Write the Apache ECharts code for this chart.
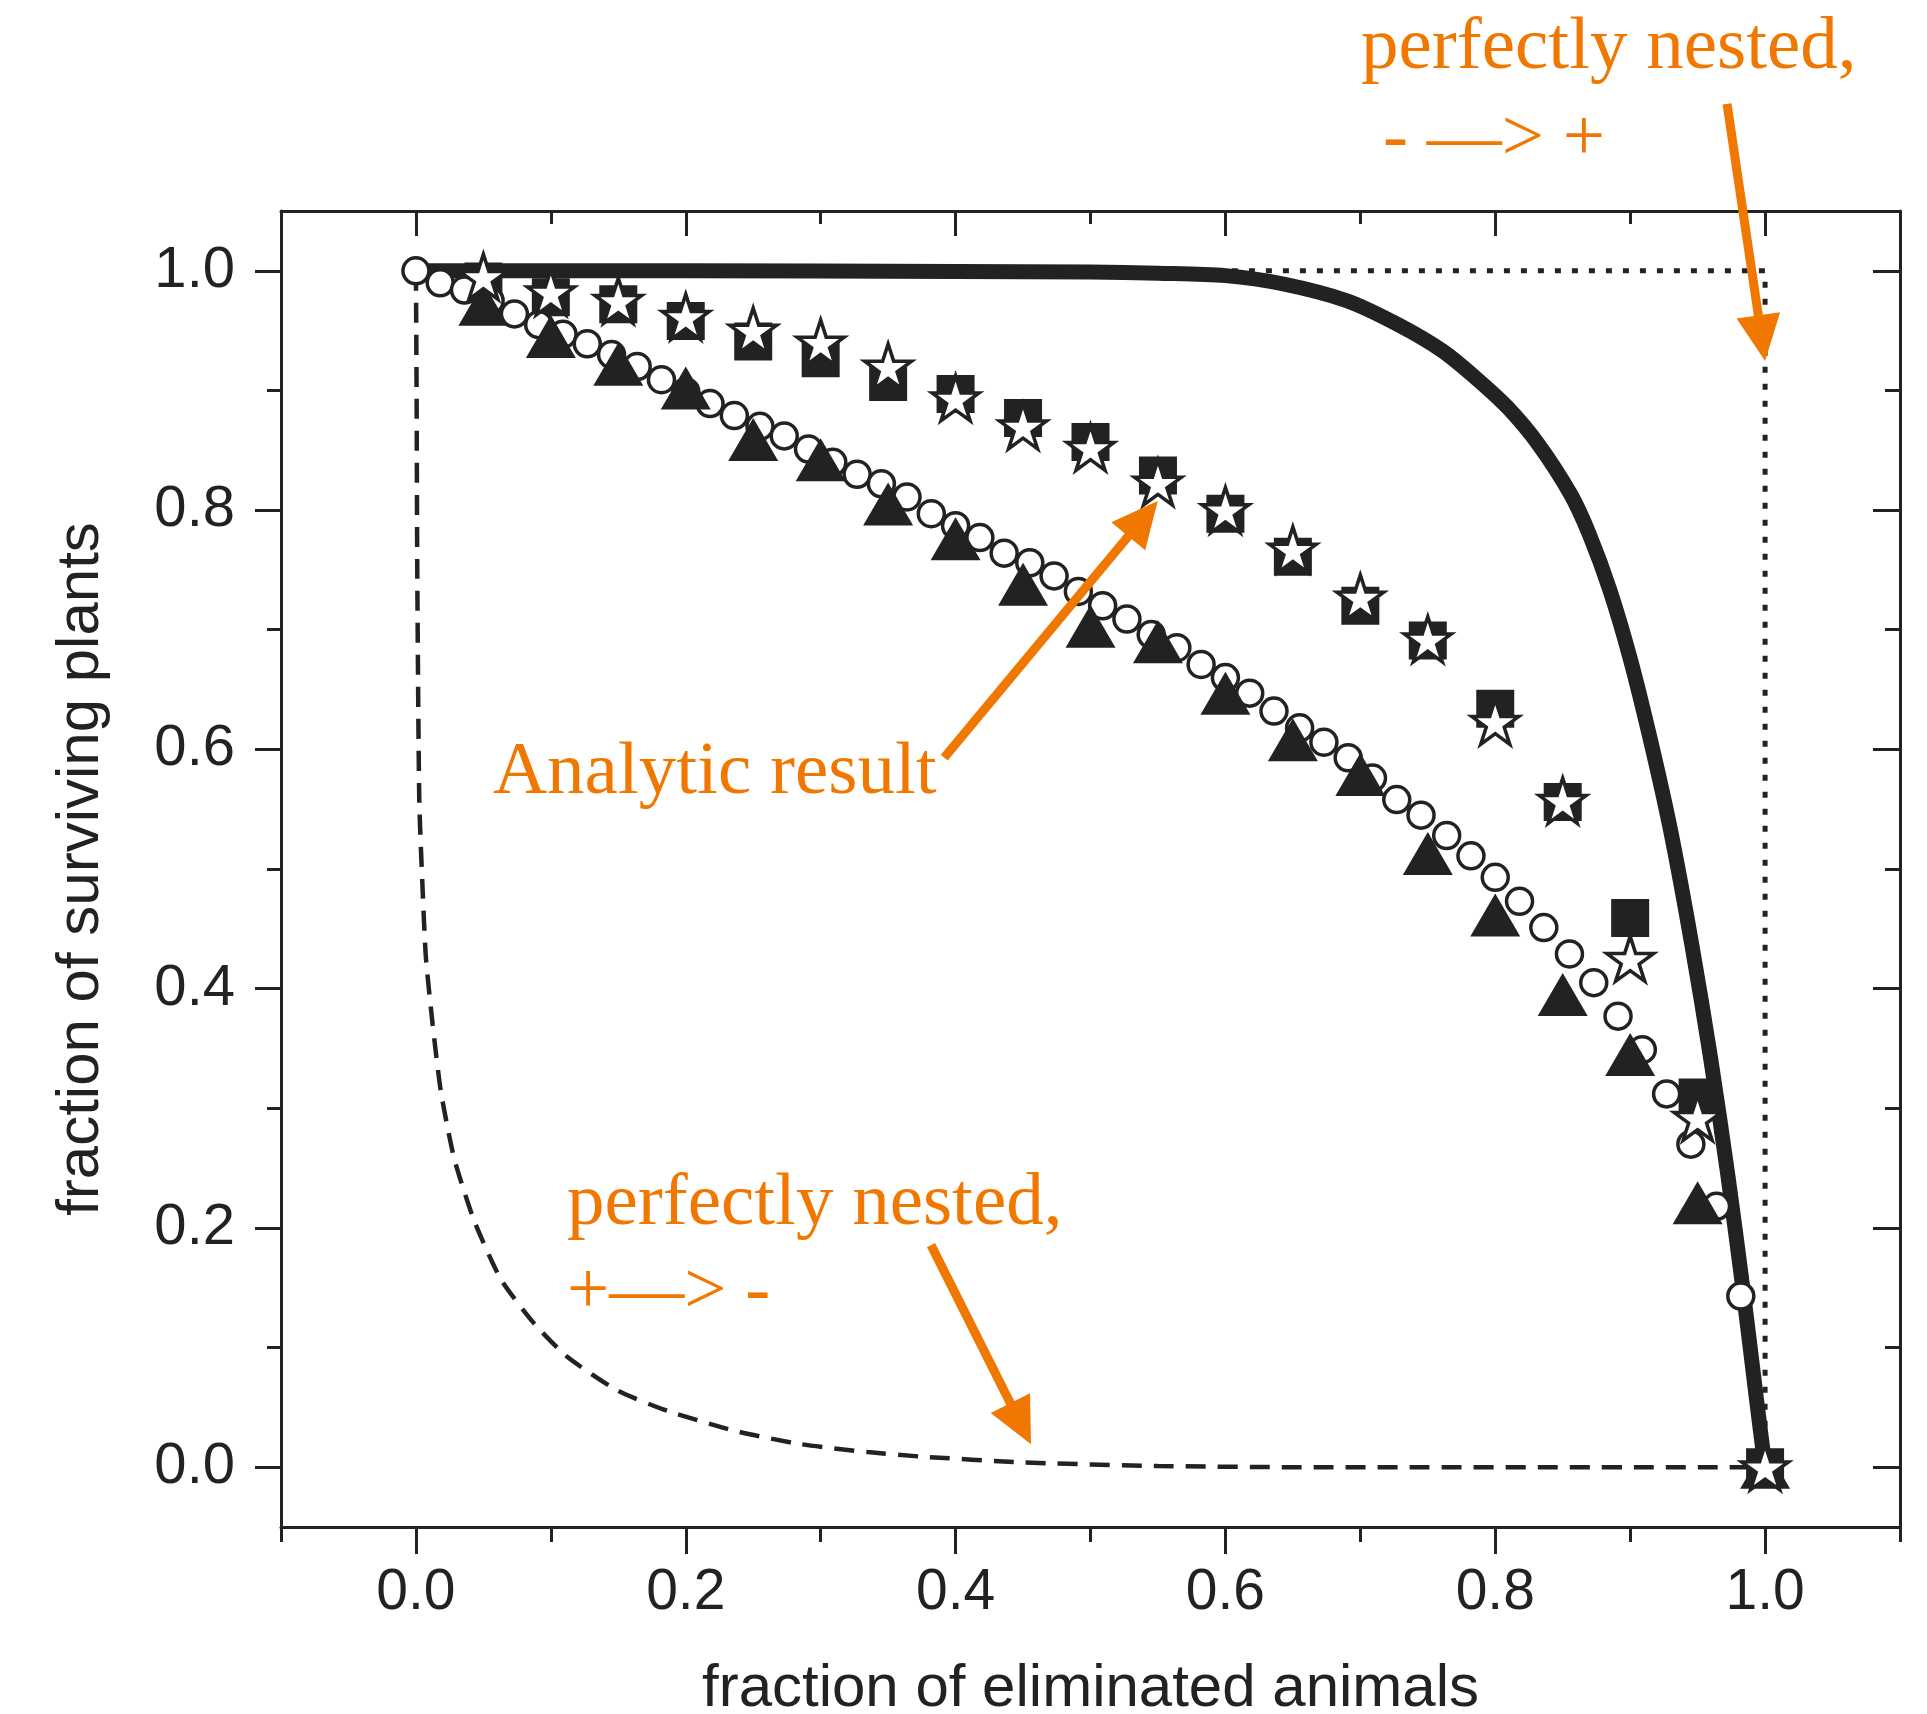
<!DOCTYPE html>
<html>
<head>
<meta charset="utf-8">
<script src="https://cdn.jsdelivr.net/npm/echarts@6/dist/echarts.min.js"></script>
<style>
  html, body { margin: 0; padding: 0; background: #ffffff; }
  #chart { width: 1927px; height: 1714px; }
</style>
</head>
<body>
<div id="chart"></div>
<script>
// tick positions
const xMajor = [0, 0.2, 0.4, 0.6, 0.8, 1.0];
const xMinor = [-0.1, 0.1, 0.3, 0.5, 0.7, 0.9, 1.1];
const yMajor = [0, 0.2, 0.4, 0.6, 0.8, 1.0];
const yMinor = [0.1, 0.3, 0.5, 0.7, 0.9];

// open circles
const circleX = [0, 0.018, 0.036, 0.055, 0.073, 0.091, 0.109, 0.127, 0.145, 0.164,
  0.182, 0.2, 0.218, 0.236, 0.255, 0.273, 0.291, 0.309, 0.327, 0.345,
  0.364, 0.382, 0.4, 0.418, 0.436, 0.455, 0.473, 0.491, 0.509, 0.527,
  0.545, 0.564, 0.582, 0.6, 0.618, 0.636, 0.655, 0.673, 0.691, 0.709,
  0.727, 0.745, 0.764, 0.782, 0.8, 0.818, 0.836, 0.855, 0.873, 0.891,
  0.909, 0.927, 0.945, 0.964, 0.982];
const circleY = [1.0, 0.990, 0.984, 0.975, 0.964, 0.955, 0.947, 0.939, 0.930, 0.920,
  0.909, 0.899, 0.889, 0.879, 0.870, 0.862, 0.851, 0.840, 0.830, 0.822,
  0.811, 0.797, 0.787, 0.777, 0.764, 0.756, 0.745, 0.732, 0.720, 0.709,
  0.696, 0.685, 0.671, 0.660, 0.647, 0.632, 0.618, 0.606, 0.593, 0.576,
  0.558, 0.545, 0.528, 0.511, 0.493, 0.473, 0.451, 0.429, 0.405, 0.377,
  0.349, 0.312, 0.270, 0.218, 0.143];

// triangles, squares, stars share the same x
const markX = [0.05, 0.1, 0.15, 0.2, 0.25, 0.3, 0.35, 0.4, 0.45, 0.5,
  0.55, 0.6, 0.65, 0.7, 0.75, 0.8, 0.85, 0.9, 0.95, 1.0];
const triangleY = [0.972, 0.945, 0.922, 0.902, 0.859, 0.842, 0.805, 0.776, 0.738, 0.703,
  0.690, 0.647, 0.608, 0.579, 0.513, 0.4615, 0.395, 0.345, 0.221, 0];
const squareY = [0.991, 0.978, 0.972, 0.958, 0.941, 0.927, 0.907, 0.897, 0.877, 0.857,
  0.829, 0.797, 0.761, 0.720, 0.691, 0.634, 0.556, 0.459, 0.309, 0];
const starY = [0.995, 0.982, 0.975, 0.9615, 0.950, 0.940, 0.920, 0.8935, 0.870, 0.852,
  0.823, 0.800, 0.767, 0.727, 0.692, 0.623, 0.557, 0.425, 0.292, 0];

// analytic result (thick solid line)
const solidX = [0, 0.2, 0.4, 0.5, 0.55, 0.6, 0.643, 0.69, 0.728, 0.761, 0.785, 0.809, 0.832,
  0.856, 0.87, 0.885, 0.9, 0.915, 0.93, 0.9455, 0.9596, 0.9724, 0.9837, 0.9937, 1.0];
const solidY = [1.0, 1.0, 0.9995, 0.999, 0.998, 0.996, 0.989, 0.975, 0.955, 0.933, 0.911, 0.886, 0.855,
  0.813, 0.779, 0.733, 0.676, 0.608, 0.532, 0.438, 0.342, 0.244, 0.148, 0.056, 0];

// perfectly nested, +-> - (dashed)
const dashX = [0, 0.0005, 0.001, 0.0025, 0.005, 0.0074, 0.0124, 0.0185, 0.0284, 0.0432, 0.063,
  0.0877, 0.1124, 0.1495, 0.1866, 0.236, 0.285, 0.335, 0.374, 0.45, 0.55, 0.65, 1.0];
const dashY = [1.0, 0.9, 0.75, 0.557, 0.482, 0.426, 0.370, 0.314, 0.258, 0.206, 0.157,
  0.120, 0.092, 0.064, 0.047, 0.0305, 0.0193, 0.0126, 0.0089, 0.004, 0.001, 0, 0];

// perfectly nested, - -> + (dotted)
const dotX = [0, 1.0, 1.0];
const dotY = [1.0, 1.0, 0];

// orange notes (left edge, baseline) and arrows (tail -> tip), in data units
const noteText = ['perfectly nested,', '- \u2014> +', 'Analytic result', 'perfectly nested,', '+\u2014> -'];
const noteX = [0.7005, 0.7168, 0.0571, 0.1119, 0.1119];
const noteY = [1.1714, 1.0945, 0.5652, 0.2057, 0.1313];
const arrowFrom = [[0.9718, 1.1396], [0.3916, 0.5931], [0.3818, 0.1856]];
const arrowTo = [[1.0, 0.9247], [0.5498, 0.8077], [0.4559, 0.0192]];

const INK = '#222222';
const ORANGE = '#f07800';
const SANS = '"Liberation Sans", Arial, sans-serif';
const STAR = 'path://M0,-100 L22.45,-30.9 L95.1,-30.9 L36.3,11.8 L58.8,80.9 L0,38.2 L-58.8,80.9 L-36.3,11.8 L-95.1,-30.9 L-22.45,-30.9 Z';

const pts = (xs, ys) => xs.map((x, i) => [x, ys[i]]);

function xAx(pos, ticks, len, inside, withLine, withLabels) {
  return {
    type: 'value', position: pos, min: -0.1, max: 1.1,
    axisLine: { show: withLine, onZero: false, lineStyle: { color: INK, width: 3 } },
    axisTick: { show: true, inside: inside, length: len, customValues: ticks,
      lineStyle: { color: INK, width: 3 } },
    axisLabel: withLabels ? {
      show: true, customValues: xMajor, margin: 38, color: INK,
      fontSize: 57, fontFamily: SANS, formatter: v => v.toFixed(1)
    } : { show: false },
    splitLine: { show: false }
  };
}

function yAx(pos, ticks, len, inside, withLine, withLabels) {
  return {
    type: 'value', position: pos, min: -0.05, max: 1.05,
    axisLine: { show: withLine, onZero: false, lineStyle: { color: INK, width: 3 } },
    axisTick: { show: true, inside: inside, length: len, customValues: ticks,
      lineStyle: { color: INK, width: 3 } },
    axisLabel: withLabels ? {
      show: true, customValues: yMajor, margin: 46, color: INK,
      fontSize: 58, fontFamily: SANS, formatter: v => v.toFixed(1)
    } : { show: false },
    splitLine: { show: false }
  };
}

const xBottomMajor = xAx('bottom', xMajor, 27, false, false, true);
Object.assign(xBottomMajor, {
  name: 'fraction of eliminated animals', nameLocation: 'middle', nameGap: 132,
  nameTextStyle: { color: INK, fontSize: 60, fontFamily: SANS }
});
const yLeftMajor = yAx('left', yMajor, 26, false, false, true);
Object.assign(yLeftMajor, {
  name: 'fraction of surviving plants', nameLocation: 'middle', nameGap: 170,
  nameTextStyle: { color: INK, fontSize: 60, fontFamily: SANS }
});

const chart = echarts.init(document.getElementById('chart'));

chart.setOption({
  animation: false,
  backgroundColor: '#ffffff',
  grid: { left: 281, right: 27, top: 211, bottom: 187, containLabel: false, outerBoundsMode: 'none' },
  xAxis: [
    xAx('bottom', xMinor, 15, false, true, false),
    xBottomMajor,
    xAx('top', xMinor, 13, true, true, false),
    xAx('top', xMajor, 25, true, false, false)
  ],
  yAxis: [
    yAx('left', yMinor, 14, false, true, false),
    yLeftMajor,
    yAx('right', yMinor, 15, true, true, false),
    yAx('right', yMajor, 27, true, false, false)
  ],
  series: [
    {
      name: 'nested -->+', type: 'line', z: 2, data: pts(dotX, dotY),
      symbol: 'none', lineStyle: { color: INK, width: 5, type: [6, 11] }
    },
    {
      name: 'nested +-->-', type: 'line', z: 2, data: pts(dashX, dashY),
      symbol: 'none', smooth: 0.2,
      lineStyle: { color: INK, width: 4.5, type: [20, 12] }
    },
    {
      name: 'squares', type: 'scatter', z: 3, data: pts(markX, squareY),
      symbol: 'rect', symbolSize: 38, itemStyle: { color: INK, opacity: 1 }
    },
    {
      name: 'Analytic result', type: 'line', z: 4, data: pts(solidX, solidY),
      symbol: 'none', smooth: 0.3,
      lineStyle: { color: INK, width: 15, join: 'round' }
    },
    {
      name: 'circles', type: 'scatter', z: 5, data: pts(circleX, circleY),
      symbol: 'circle', symbolSize: 26,
      itemStyle: { color: '#ffffff', borderColor: INK, borderWidth: 3.5, opacity: 1 }
    },
    {
      name: 'triangles', type: 'scatter', z: 6, data: pts(markX, triangleY),
      symbol: 'triangle', symbolSize: [50, 43], itemStyle: { color: INK, opacity: 1 }
    },
    {
      name: 'stars', type: 'scatter', z: 7, data: pts(markX, starY),
      symbol: STAR, symbolSize: [47, 45],
      itemStyle: { color: '#ffffff', borderColor: INK, borderWidth: 3.5, opacity: 1 }
    }
  ]
});

// orange annotations, placed through the grid's own scale
function drawNotes() {
  const px = p => chart.convertToPixel({ xAxisIndex: 0, yAxisIndex: 0 }, p);
  const els = [];
  const fs = 75;
  noteText.forEach((t, i) => {
    const p = px([noteX[i], noteY[i]]);
    els.push({
      type: 'text', z: 100,
      style: {
        text: t, x: p[0], y: p[1] - 0.23 * fs,
        font: fs + 'px "Liberation Serif", "Times New Roman", serif',
        fill: ORANGE, align: 'left', verticalAlign: 'middle',
        textAlign: 'left', textVerticalAlign: 'middle'
      }
    });
  });
  arrowFrom.forEach((a, i) => {
    const t = px(a), h = px(arrowTo[i]);
    const dx = h[0] - t[0], dy = h[1] - t[1];
    const d = Math.sqrt(dx * dx + dy * dy);
    const ux = dx / d, uy = dy / d;
    const L = 46, W = 44;
    const bx = h[0] - ux * L, by = h[1] - uy * L;
    els.push({
      type: 'line', z: 100,
      shape: { x1: t[0], y1: t[1], x2: bx + ux * 4, y2: by + uy * 4 },
      style: { stroke: ORANGE, lineWidth: 9 }
    });
    els.push({
      type: 'polygon', z: 100,
      shape: { points: [[h[0], h[1]], [bx - uy * W / 2, by + ux * W / 2], [bx + uy * W / 2, by - ux * W / 2]] },
      style: { fill: ORANGE }
    });
  });
  chart.setOption({ graphic: { elements: els } });
}
drawNotes();
</script>
</body>
</html>
